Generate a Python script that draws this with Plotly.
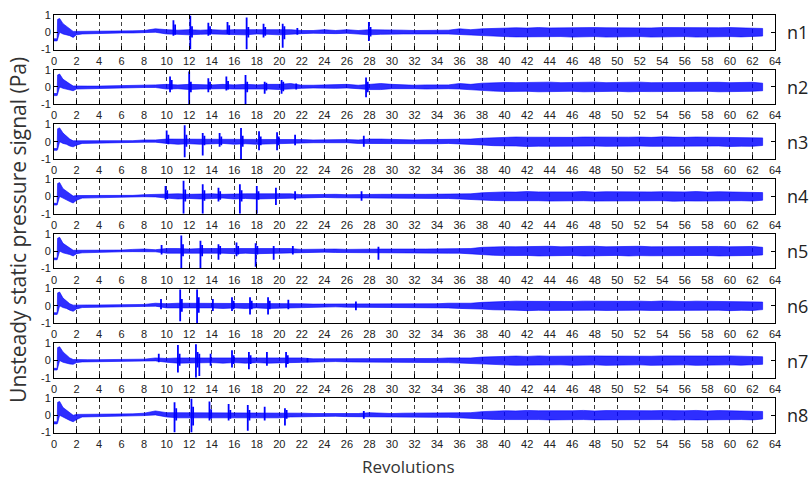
import plotly.graph_objects as go

# ---------------- data ----------------
LABELS = ["n1", "n2", "n3", "n4", "n5", "n6", "n7", "n8"]
X_TICKS = list(range(0, 65, 2))
Y_TICKS = [-1, 0, 1]
Y_TICKTEXT = ["-1", "0", "1"]

# common revolution grid for the signal envelope
BAND_X = [0, 0.28, 0.32, 0.5, 0.8, 1.1, 1.4, 1.7, 2.0, 2.5] + list(range(3, 63)) + [62.9]

# upper / lower envelope of each signal (Pa)
N1_UP = ([-0.38, -0.38, 0.75, 0.8, 0.5, 0.35, 0.2, 0.05, 0.05, 0.05]
         + [0.05, 0.06, 0.06, 0.07, 0.08, 0.1, 0.2]
         + [0.15, 0.12, 0.15, 0.12, 0.15, 0.12, 0.15, 0.15, 0.15, 0.15, 0.15, 0.15]
         + [0.1, 0.1, 0.15, 0.1, 0.15, 0.1, 0.15, 0.15, 0.12, 0.12, 0.1, 0.12, 0.12, 0.12, 0.2, 0.15]
         + [0.2, 0.22, 0.25, 0.26, 0.24, 0.27, 0.25, 0.26, 0.28, 0.25, 0.27, 0.26, 0.25,
            0.28, 0.26, 0.25, 0.27, 0.26, 0.28, 0.25, 0.27, 0.26, 0.27, 0.25, 0.26, 0.22])
N1_LO = ([-0.5, -0.5, -0.45, 0.0, -0.1, -0.15, -0.2, -0.3, -0.15, -0.1]
         + [-0.08, -0.06, -0.05, -0.04, -0.04, -0.03, 0.0]
         + [-0.1, -0.12, -0.15, -0.12, -0.1, -0.1, -0.12, -0.15, -0.1, -0.12, -0.15, -0.1]
         + [-0.08, -0.06, -0.05, -0.08, -0.06, -0.1, -0.15, -0.12, -0.1, -0.1, -0.1, -0.12, -0.1, -0.1, -0.12, -0.12]
         + [-0.18, -0.22, -0.25, -0.27, -0.25, -0.28, -0.26, -0.25, -0.28, -0.27, -0.25, -0.28, -0.26,
            -0.27, -0.25, -0.28, -0.26, -0.27, -0.25, -0.28, -0.26, -0.27, -0.25, -0.27, -0.26, -0.22])

N2_UP = ([-0.38, -0.38, 0.7, 0.75, 0.45, 0.3, 0.18, 0.06, 0.05, 0.05]
         + [0.05, 0.05, 0.06, 0.07, 0.07, 0.1, 0.12]
         + [0.15, 0.12, 0.15, 0.12, 0.12, 0.15, 0.12, 0.15, 0.12, 0.15, 0.15, 0.2]
         + [0.1, 0.1, 0.12, 0.1, 0.15, 0.1, 0.15, 0.2, 0.15, 0.12, 0.1, 0.12, 0.12, 0.12, 0.2, 0.15]
         + [0.22, 0.25, 0.26, 0.25, 0.27, 0.26, 0.28, 0.25, 0.27, 0.26, 0.28, 0.25, 0.27,
            0.26, 0.28, 0.25, 0.26, 0.27, 0.25, 0.28, 0.26, 0.27, 0.25, 0.26, 0.27, 0.22])
N2_LO = ([-0.5, -0.5, -0.45, 0.0, -0.08, -0.12, -0.18, -0.22, -0.12, -0.08]
         + [-0.07, -0.06, -0.05, -0.04, -0.04, -0.03, -0.03]
         + [-0.12, -0.1, -0.15, -0.12, -0.1, -0.1, -0.12, -0.15, -0.12, -0.12, -0.15, -0.1]
         + [-0.08, -0.06, -0.05, -0.08, -0.06, -0.1, -0.15, -0.15, -0.1, -0.1, -0.1, -0.12, -0.12, -0.1, -0.12, -0.12]
         + [-0.2, -0.24, -0.26, -0.27, -0.25, -0.28, -0.26, -0.27, -0.25, -0.28, -0.26, -0.27, -0.25,
            -0.28, -0.26, -0.27, -0.25, -0.28, -0.27, -0.26, -0.25, -0.28, -0.26, -0.27, -0.25, -0.22])

N3_UP = ([-0.4, -0.4, 0.75, 0.8, 0.5, 0.3, 0.15, 0.05, 0.05, 0.05]
         + [0.05, 0.05, 0.05, 0.06, 0.06, 0.1, 0.1]
         + [0.15, 0.15, 0.15, 0.12, 0.15, 0.12, 0.15, 0.15, 0.15, 0.15, 0.12, 0.15]
         + [0.12, 0.1, 0.12, 0.1, 0.12, 0.1, 0.15, 0.15, 0.12, 0.12, 0.1, 0.12, 0.12, 0.12, 0.15, 0.15]
         + [0.2, 0.23, 0.25, 0.27, 0.26, 0.25, 0.28, 0.26, 0.25, 0.27, 0.26, 0.28, 0.25,
            0.26, 0.27, 0.25, 0.28, 0.26, 0.25, 0.27, 0.26, 0.28, 0.25, 0.27, 0.26, 0.22])
N3_LO = ([-0.5, -0.5, -0.45, 0.0, -0.1, -0.15, -0.25, -0.3, -0.2, -0.1]
         + [-0.07, -0.05, -0.05, -0.04, -0.04, -0.03, -0.03]
         + [-0.1, -0.15, -0.12, -0.15, -0.12, -0.1, -0.15, -0.12, -0.15, -0.15, -0.12, -0.1]
         + [-0.08, -0.06, -0.06, -0.08, -0.06, -0.1, -0.12, -0.12, -0.1, -0.1, -0.1, -0.12, -0.12, -0.1, -0.12, -0.15]
         + [-0.19, -0.23, -0.26, -0.25, -0.28, -0.26, -0.27, -0.25, -0.28, -0.26, -0.25, -0.27, -0.28,
            -0.26, -0.25, -0.27, -0.26, -0.28, -0.25, -0.27, -0.26, -0.25, -0.28, -0.26, -0.27, -0.22])

N4_UP = ([-0.4, -0.4, 0.75, 0.8, 0.45, 0.3, 0.12, 0.02, 0.05, 0.05]
         + [0.05, 0.05, 0.05, 0.06, 0.06, 0.1, 0.12]
         + [0.15, 0.15, 0.12, 0.15, 0.15, 0.12, 0.15, 0.15, 0.15, 0.15, 0.12, 0.15]
         + [0.1, 0.12, 0.1, 0.12, 0.1, 0.12, 0.12, 0.12, 0.12, 0.1, 0.12, 0.12, 0.12, 0.12, 0.15, 0.15]
         + [0.21, 0.24, 0.26, 0.25, 0.28, 0.26, 0.25, 0.27, 0.26, 0.28, 0.25, 0.27, 0.26,
            0.25, 0.28, 0.26, 0.27, 0.25, 0.26, 0.28, 0.25, 0.27, 0.26, 0.28, 0.25, 0.22])
N4_LO = ([-0.5, -0.5, -0.45, 0.0, -0.1, -0.18, -0.3, -0.38, -0.22, -0.1]
         + [-0.08, -0.06, -0.05, -0.04, -0.04, -0.02, -0.03]
         + [-0.1, -0.15, -0.12, -0.15, -0.12, -0.1, -0.15, -0.12, -0.15, -0.12, -0.12, -0.1]
         + [-0.08, -0.08, -0.06, -0.08, -0.08, -0.1, -0.12, -0.12, -0.1, -0.1, -0.12, -0.12, -0.12, -0.12, -0.12, -0.15]
         + [-0.21, -0.24, -0.25, -0.28, -0.26, -0.25, -0.27, -0.28, -0.26, -0.25, -0.27, -0.26, -0.28,
            -0.25, -0.27, -0.26, -0.25, -0.28, -0.26, -0.27, -0.25, -0.28, -0.26, -0.25, -0.27, -0.22])

N5_UP = ([-0.4, -0.4, 0.75, 0.8, 0.45, 0.3, 0.15, 0.05, 0.05, 0.05]
         + [0.05, 0.05, 0.06, 0.06, 0.1, 0.12, 0.08]
         + [0.15, 0.15, 0.12, 0.15, 0.15, 0.12, 0.15, 0.15, 0.15, 0.12, 0.12, 0.15]
         + [0.1, 0.12, 0.1, 0.12, 0.1, 0.12, 0.12, 0.12, 0.12, 0.1, 0.12, 0.12, 0.12, 0.12, 0.15, 0.15]
         + [0.22, 0.25, 0.26, 0.25, 0.27, 0.26, 0.28, 0.25, 0.27, 0.26, 0.28, 0.25, 0.27,
            0.26, 0.28, 0.25, 0.26, 0.27, 0.25, 0.28, 0.26, 0.27, 0.25, 0.26, 0.27, 0.22])
N5_LO = ([-0.5, -0.5, -0.45, 0.0, -0.1, -0.15, -0.2, -0.28, -0.15, -0.1]
         + [-0.07, -0.06, -0.05, -0.04, -0.03, -0.02, -0.04]
         + [-0.12, -0.15, -0.12, -0.15, -0.12, -0.12, -0.15, -0.12, -0.15, -0.12, -0.12, -0.1]
         + [-0.08, -0.08, -0.06, -0.08, -0.08, -0.1, -0.12, -0.12, -0.1, -0.1, -0.12, -0.12, -0.12, -0.12, -0.12, -0.15]
         + [-0.2, -0.24, -0.26, -0.27, -0.25, -0.28, -0.26, -0.27, -0.25, -0.28, -0.26, -0.27, -0.25,
            -0.28, -0.26, -0.27, -0.25, -0.28, -0.27, -0.26, -0.25, -0.28, -0.26, -0.27, -0.25, -0.22])

N6_UP = ([-0.4, -0.4, 0.75, 0.8, 0.45, 0.3, 0.12, 0.04, 0.05, 0.05]
         + [0.05, 0.05, 0.05, 0.06, 0.07, 0.08, 0.15]
         + [0.12, 0.15, 0.15, 0.15, 0.15, 0.15, 0.15, 0.15, 0.15, 0.15, 0.15, 0.15]
         + [0.12, 0.1, 0.1, 0.12, 0.1, 0.12, 0.12, 0.12, 0.1, 0.12, 0.12, 0.12, 0.12, 0.15, 0.15, 0.15]
         + [0.2, 0.23, 0.25, 0.27, 0.26, 0.25, 0.28, 0.26, 0.25, 0.27, 0.26, 0.28, 0.25,
            0.26, 0.27, 0.25, 0.28, 0.26, 0.25, 0.27, 0.26, 0.28, 0.25, 0.27, 0.26, 0.22])
N6_LO = ([-0.5, -0.5, -0.45, 0.0, -0.1, -0.15, -0.25, -0.32, -0.18, -0.1]
         + [-0.08, -0.06, -0.05, -0.05, -0.04, -0.03, -0.02]
         + [-0.12, -0.15, -0.15, -0.12, -0.12, -0.15, -0.12, -0.15, -0.12, -0.15, -0.12, -0.1]
         + [-0.08, -0.08, -0.08, -0.06, -0.08, -0.1, -0.12, -0.1, -0.1, -0.12, -0.12, -0.12, -0.12, -0.12, -0.15, -0.15]
         + [-0.19, -0.23, -0.26, -0.25, -0.28, -0.26, -0.27, -0.25, -0.28, -0.26, -0.25, -0.27, -0.28,
            -0.26, -0.25, -0.27, -0.26, -0.28, -0.25, -0.27, -0.26, -0.25, -0.28, -0.26, -0.27, -0.22])

N7_UP = ([-0.45, -0.45, 0.75, 0.8, 0.5, 0.3, 0.15, 0.06, 0.05, 0.05]
         + [0.05, 0.05, 0.05, 0.06, 0.06, 0.08, 0.15]
         + [0.12, 0.15, 0.15, 0.15, 0.12, 0.15, 0.15, 0.15, 0.15, 0.15, 0.15, 0.15]
         + [0.15, 0.1, 0.1, 0.12, 0.1, 0.12, 0.12, 0.12, 0.1, 0.12, 0.12, 0.12, 0.12, 0.15, 0.15, 0.15]
         + [0.2, 0.22, 0.25, 0.26, 0.24, 0.27, 0.25, 0.26, 0.28, 0.25, 0.27, 0.26, 0.25,
            0.28, 0.26, 0.25, 0.27, 0.26, 0.28, 0.25, 0.27, 0.26, 0.27, 0.25, 0.26, 0.22])
N7_LO = ([-0.55, -0.55, -0.5, 0.0, -0.1, -0.15, -0.2, -0.22, -0.12, -0.08]
         + [-0.07, -0.05, -0.05, -0.04, -0.04, -0.03, -0.02]
         + [-0.1, -0.15, -0.15, -0.12, -0.12, -0.15, -0.12, -0.15, -0.12, -0.15, -0.12, -0.1]
         + [-0.1, -0.08, -0.08, -0.06, -0.08, -0.1, -0.12, -0.1, -0.1, -0.12, -0.12, -0.12, -0.12, -0.12, -0.15, -0.15]
         + [-0.18, -0.22, -0.25, -0.27, -0.25, -0.28, -0.26, -0.25, -0.28, -0.27, -0.25, -0.28, -0.26,
            -0.27, -0.25, -0.28, -0.26, -0.27, -0.25, -0.28, -0.26, -0.27, -0.25, -0.27, -0.26, -0.22])

N8_UP = ([-0.38, -0.38, 0.75, 0.8, 0.45, 0.3, 0.1, 0.0, 0.05, 0.05]
         + [0.05, 0.05, 0.06, 0.06, 0.08, 0.12, 0.25]
         + [0.15, 0.15, 0.15, 0.15, 0.15, 0.15, 0.15, 0.15, 0.15, 0.15, 0.15, 0.12]
         + [0.12, 0.1, 0.1, 0.1, 0.12, 0.1, 0.15, 0.12, 0.1, 0.12, 0.12, 0.12, 0.12, 0.15, 0.15, 0.15]
         + [0.21, 0.24, 0.26, 0.25, 0.28, 0.26, 0.25, 0.27, 0.26, 0.28, 0.25, 0.27, 0.26,
            0.25, 0.28, 0.26, 0.27, 0.25, 0.26, 0.28, 0.25, 0.27, 0.26, 0.28, 0.25, 0.22])
N8_LO = ([-0.5, -0.5, -0.45, 0.0, -0.1, -0.2, -0.3, -0.38, -0.25, -0.1]
         + [-0.07, -0.05, -0.05, -0.04, -0.03, -0.02, 0.02]
         + [-0.1, -0.15, -0.15, -0.15, -0.12, -0.12, -0.15, -0.15, -0.12, -0.15, -0.15, -0.1]
         + [-0.08, -0.08, -0.06, -0.06, -0.08, -0.1, -0.12, -0.1, -0.1, -0.12, -0.12, -0.12, -0.12, -0.12, -0.15, -0.15]
         + [-0.21, -0.24, -0.25, -0.28, -0.26, -0.25, -0.27, -0.28, -0.26, -0.25, -0.27, -0.26, -0.28,
            -0.25, -0.27, -0.26, -0.25, -0.28, -0.26, -0.27, -0.25, -0.28, -0.26, -0.25, -0.27, -0.22])

# transient bursts: revolution, peak value, trough value (Pa)
N1_SPK_X = [10.6, 10.75, 12.1, 12.25, 13.7, 13.85, 15.4, 15.55, 17.1, 17.25, 18.6, 18.75, 20.3, 20.45, 21.6, 27.95, 28.1]
N1_SPK_HI = [0.7, 0.45, 0.95, 0.35, 0.55, 0.35, 0.6, 0.4, 0.85, 0.3, 0.5, 0.3, 0.5, 0.35, 0.25, 0.6, 0.3]
N1_SPK_LO = [-0.2, -0.15, -1.0, -0.3, -0.2, -0.15, -0.1, -0.15, -1.0, -0.3, -0.3, -0.2, -0.9, -0.4, -0.15, -0.5, -0.25]

N2_SPK_X = [10.3, 10.45, 12.0, 12.15, 13.7, 13.85, 15.3, 15.45, 17.0, 17.15, 18.7, 18.85, 20.2, 20.35, 21.5, 27.7, 27.85]
N2_SPK_HI = [0.6, 0.4, 0.9, 0.3, 0.5, 0.3, 0.6, 0.35, 0.7, 0.3, 0.3, 0.25, 0.4, 0.3, 0.2, 0.55, 0.3]
N2_SPK_LO = [-0.3, -0.15, -1.0, -0.3, -0.3, -0.15, -0.2, -0.15, -1.0, -0.3, -0.4, -0.2, -0.4, -0.25, -0.15, -0.6, -0.3]

N3_SPK_X = [10.0, 10.15, 11.6, 11.75, 13.2, 13.35, 14.7, 14.85, 16.6, 16.75, 18.2, 18.35, 19.8, 19.95, 21.4, 27.5]
N3_SPK_HI = [0.65, 0.4, 0.95, 0.4, 0.5, 0.35, 0.5, 0.3, 0.8, 0.35, 0.6, 0.3, 0.55, 0.3, 0.4, 0.35]
N3_SPK_LO = [-0.1, -0.15, -0.9, -0.3, -0.8, -0.2, -0.3, -0.2, -1.0, -0.3, -0.5, -0.2, -0.5, -0.2, -0.2, -0.3]

N4_SPK_X = [9.9, 10.05, 11.5, 11.65, 13.2, 13.35, 14.6, 14.75, 16.5, 16.65, 18.0, 18.15, 19.7, 21.4, 27.3]
N4_SPK_HI = [0.6, 0.35, 0.9, 0.4, 0.7, 0.35, 0.5, 0.3, 0.7, 0.35, 0.6, 0.3, 0.5, 0.3, 0.3]
N4_SPK_LO = [-0.2, -0.15, -1.0, -0.3, -1.0, -0.25, -0.3, -0.2, -1.0, -0.3, -1.0, -0.2, -0.5, -0.2, -0.25]

N5_SPK_X = [9.55, 11.3, 11.45, 13.0, 13.15, 14.6, 14.75, 16.2, 16.35, 17.9, 18.05, 19.5, 21.2, 28.8]
N5_SPK_HI = [0.35, 0.9, 0.4, 0.6, 0.35, 0.4, 0.3, 0.5, 0.3, 0.45, 0.3, 0.3, 0.3, 0.25]
N5_SPK_LO = [-0.2, -1.0, -0.3, -1.0, -0.3, -0.5, -0.2, -0.3, -0.2, -0.9, -0.2, -0.5, -0.2, -0.5]

N6_SPK_X = [9.5, 11.2, 11.35, 12.7, 12.85, 14.1, 15.8, 15.95, 17.4, 17.55, 19.0, 19.15, 20.8, 26.8]
N6_SPK_HI = [0.4, 0.95, 0.4, 0.95, 0.5, 0.4, 0.5, 0.3, 0.5, 0.3, 0.5, 0.3, 0.35, 0.25]
N6_SPK_LO = [-0.2, -0.9, -0.35, -1.0, -0.4, -0.3, -0.3, -0.2, -0.5, -0.2, -0.5, -0.2, -0.2, -0.25]

N7_SPK_X = [9.3, 11.0, 11.15, 12.6, 12.75, 12.9, 13.9, 15.8, 15.95, 17.3, 17.45, 18.9, 20.6, 20.75, 22.5]
N7_SPK_HI = [0.4, 0.9, 0.4, 0.95, 0.5, 0.4, 0.4, 0.6, 0.3, 0.5, 0.3, 0.5, 0.5, 0.3, 0.15]
N7_SPK_LO = [-0.1, -0.7, -0.3, -1.0, -0.4, -0.9, -0.3, -0.4, -0.2, -0.5, -0.2, -0.3, -0.4, -0.2, -0.1]

N8_SPK_X = [10.7, 10.85, 12.2, 12.35, 13.8, 13.95, 15.5, 15.65, 17.2, 17.35, 18.7, 20.5, 20.65, 27.5]
N8_SPK_HI = [0.75, 0.4, 0.95, 0.5, 0.8, 0.35, 0.65, 0.3, 0.6, 0.3, 0.5, 0.4, 0.3, 0.25]
N8_SPK_LO = [-1.0, -0.3, -1.0, -0.6, -0.3, -0.2, -0.3, -0.2, -0.9, -0.3, -0.3, -0.6, -0.2, -0.2]

BANDS = [(N1_UP, N1_LO), (N2_UP, N2_LO), (N3_UP, N3_LO), (N4_UP, N4_LO),
         (N5_UP, N5_LO), (N6_UP, N6_LO), (N7_UP, N7_LO), (N8_UP, N8_LO)]
SPIKES = [(N1_SPK_X, N1_SPK_HI, N1_SPK_LO), (N2_SPK_X, N2_SPK_HI, N2_SPK_LO),
          (N3_SPK_X, N3_SPK_HI, N3_SPK_LO), (N4_SPK_X, N4_SPK_HI, N4_SPK_LO),
          (N5_SPK_X, N5_SPK_HI, N5_SPK_LO), (N6_SPK_X, N6_SPK_HI, N6_SPK_LO),
          (N7_SPK_X, N7_SPK_HI, N7_SPK_LO), (N8_SPK_X, N8_SPK_HI, N8_SPK_LO)]

# ---------------- layout geometry ----------------
W, H = 812, 485
ML, MR, MT, MB = 54, 37, 9, 52
PLOT_H = H - MT - MB
PANEL_H = 35.0
PITCH = 55.5
BLUE = "rgb(0,0,255)"
TICK_FONT = dict(family="Liberation Sans, Arial, sans-serif", size=11, color="#222")
XTITLE_FONT = dict(family="Open Sans, Noto Sans, sans-serif", size=17, color="#333")
YTITLE_FONT = dict(family="Open Sans, Noto Sans, sans-serif", size=21, color="#333")

fig = go.Figure()
layout = {}
annotations = []

for k in range(8):
    top = k * PITCH
    bot = top + PANEL_H
    dom = [1 - bot / PLOT_H, 1 - top / PLOT_H]
    xa = "x" if k == 0 else f"x{k+1}"
    ya = "y" if k == 0 else f"y{k+1}"
    up, lo = BANDS[k]
    if len(up) != len(BAND_X) or len(lo) != len(BAND_X):
        raise ValueError(f"length mismatch panel {k+1}: {len(up)} {len(lo)} {len(BAND_X)}")
    fig.add_trace(go.Scatter(
        x=BAND_X + BAND_X[::-1], y=up + lo[::-1],
        mode="lines", fill="toself", fillcolor="rgba(0,0,255,0.82)",
        line=dict(color=BLUE, width=0.6), xaxis=xa, yaxis=ya,
        hoverinfo="skip", showlegend=False))
    sx, shi, slo = SPIKES[k]
    xs, ys = [], []
    for a, b, c in zip(sx, shi, slo):
        xs += [a, a, None]
        ys += [b, c, None]
    fig.add_trace(go.Scatter(
        x=xs, y=ys, mode="lines", line=dict(color=BLUE, width=1.8),
        xaxis=xa, yaxis=ya, hoverinfo="skip", showlegend=False))

    axis_common = dict(
        showline=True, linecolor="black", linewidth=1, mirror="ticks",
        ticks="inside", ticklen=4, tickcolor="black", tickwidth=1,
        zeroline=False, tickfont=TICK_FONT, fixedrange=True)
    layout["xaxis" if k == 0 else f"xaxis{k+1}"] = dict(
        axis_common, domain=[0, 1], range=[0, 64], tickvals=X_TICKS,
        anchor=ya, ticklabelstandoff=1,
        showgrid=True, gridcolor="#444", griddash="4px,3px", gridwidth=1)
    layout["yaxis" if k == 0 else f"yaxis{k+1}"] = dict(
        axis_common, domain=dom, range=[-1, 1], tickvals=Y_TICKS,
        ticktext=Y_TICKTEXT, anchor=xa, showgrid=False)
    annotations.append(dict(
        text=LABELS[k], xref="paper", yref="paper",
        x=1 + (785 - (W - MR)) / (W - ML - MR), y=(dom[0] + dom[1]) / 2,
        xanchor="left", yanchor="middle", showarrow=False,
        font=dict(family="Open Sans, Noto Sans, sans-serif", size=18, color="#222")))

annotations.append(dict(
    text="Unsteady static pressure signal (Pa)", xref="paper", yref="paper",
    x=(18 - ML) / (W - ML - MR), y=(H - MB - 227) / PLOT_H, textangle=-90,
    xanchor="center", yanchor="middle", showarrow=False, font=YTITLE_FONT))
annotations.append(dict(
    text="Revolutions", xref="paper", yref="paper",
    x=(408 - ML) / (W - ML - MR), y=(H - MB - 467) / PLOT_H,
    xanchor="center", yanchor="middle", showarrow=False, font=XTITLE_FONT))

fig.update_layout(
    width=W, height=H, margin=dict(l=ML, r=MR, t=MT, b=MB),
    paper_bgcolor="white", plot_bgcolor="white",
    annotations=annotations, showlegend=False, **layout)

fig.write_html("out.html", config={"displayModeBar": False})
